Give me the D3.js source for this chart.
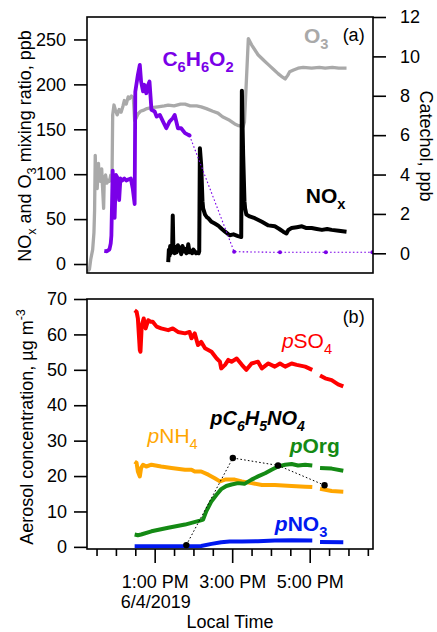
<!DOCTYPE html>
<html>
<head>
<meta charset="utf-8">
<script src="https://cdn.jsdelivr.net/npm/d3@7"></script>
<style>
  html, body { margin: 0; padding: 0; background: #fff; }
  svg { display: block; font-family: "Liberation Sans", Arial, Helvetica, sans-serif; }
</style>
</head>
<body>
<svg id="chart" width="437" height="632"></svg>
<script>
// ---------- data: [local time, value] ----------
// Panel (a): gas phase, ppb
const o3 = [
  ["11:16",-8],["11:19",-6],["11:21",5],["11:24",16],["11:26",35],["11:27",60],["11:28",121],
  ["11:29",95],["11:31",84],["11:33",112],["11:34",96],["11:36",92],["11:38",106],["11:39",90],
  ["11:41",62],["11:42",96],["11:44",99],["11:46",90],["11:48",93],["11:50",92],["11:52",99],
  ["11:54",97],["11:55",166],["11:57",177],["11:59",172],["12:02",166],["12:05",172],["12:08",169],
  ["12:11",176],["12:13",182],["12:16",178],["12:19",186],["12:21",184],["12:24",187],["12:27",185],
  ["12:29",160],["12:31",162],["12:34",167],["12:38",170],["12:42",171],["12:48",173],["12:55",174],
  ["13:05",175],["13:15",176],["13:21",177],["13:30",176],["13:40",178],["13:47",178],["13:55",176],
  ["14:05",176],["14:12",175],["14:20",173],["14:30",170],["14:38",168],["14:45",164],["14:56",160],
  ["15:04",156],["15:10",154],["15:17",153],["15:19",158],["15:25",251],["15:30",244],["15:40",233],
  ["15:50",226],["15:56",222],["16:05",216],["16:11",212],["16:18",208],["16:22",206],["16:26",210],
  ["16:29",214],["16:35",216],["16:42",218],["16:50",219],["17:03",218],["17:15",219],["17:24",218],
  ["17:35",219],["17:45",218],["17:57",218]
];

const nox = [
  ["13:21",2],["13:22",16],["13:23",9],["13:24",20],["13:25",12],["13:26",18],["13:27",14],["13:28",54],
  ["13:29",16],["13:31",12],["13:32",19],["13:34",13],["13:36",21],["13:38",15],["13:40",18],["13:41",11],
  ["13:43",20],["13:45",14],["13:47",17],["13:49",12],["13:51",16],["13:52",22],["13:54",13],["13:56",15],
  ["13:58",12],["14:00",16],["14:02",14],["14:04",12],["14:06",13],["14:08",12],["14:09",14],["14:10",129],
  ["14:12",110],["14:14",70],["14:15",62],["14:18",55],["14:21",52],["14:23",51],["14:28",47],["14:33",45],
  ["14:38",43],["14:44",39],["14:49",36],["14:56",32],["15:02",33],["15:09",31],["15:14",30],["15:15",193],
  ["15:17",121],["15:19",70],["15:20",62],["15:22",55],["15:27",53],["15:35",51],["15:46",47],["15:56",43],
  ["16:06",42],["16:13",39],["16:19",36],["16:24",34],["16:27",38],["16:32",40],["16:40",41],["16:48",42],
  ["16:55",40],["17:03",40],["17:11",39],["17:19",38],["17:27",39],["17:34",38],["17:45",37],["17:57",36]
];

// Catechol (C6H6O2), ppb: continuous record, then discrete samples
const catechol = [
  ["11:42",0.12],["11:46",0.1],["11:50",0.2],["11:52",0.5],["11:53",0.9],["11:55",4.2],["11:56",2.6],
  ["11:58",1.8],["12:00",3.98],["12:03",3.8],["12:05",2.7],["12:07",3.8],["12:10",3.7],["12:13",3.8],
  ["12:16",3.7],["12:19",3.75],["12:23",3.8],["12:26",3.3],["12:29",2.5],["12:30",8.2],["12:34",9.06],
  ["12:37",9.57],["12:39",8.72],["12:42",8.22],["12:44",8.56],["12:47",8.13],["12:50",8.56],["12:52",8.72],
  ["12:55",7.29],["13:00",7.20],["13:03",6.94],["13:08",7.03],["13:13",6.69],["13:18",6.35],["13:23",6.69],
  ["13:28",6.86],["13:31",7.03],["13:36",6.35],["13:41",6.35],["13:47",6.10],["13:54",5.98]
];
const catecholSamples = [["13:54",5.98],["15:03",0.08],["16:14",0.05],["17:25",0.05],["18:37",0.05]];

// Panel (b): aerosol composition, ug m-3 (null = no data)
const pSO4 = [
  ["12:29",66.8],["12:32",66.4],["12:34",64.5],["12:37",55.6],["12:38",55.1],["12:40",62.6],["12:43",64.5],
  ["12:46",61.7],["12:50",64.0],["12:54",63.6],["12:57",63.6],["13:03",62.2],["13:10",61.7],["13:21",61.2],
  ["13:28",61.7],["13:36",60.7],["13:47",60.3],["13:54",60.7],["13:57",58.9],["14:02",60.3],["14:07",57.0],
  ["14:12",57.9],["14:18",56.1],["14:28",55.1],["14:36",53.2],["14:41",52.3],["14:43",50.4],["14:49",51.4],
  ["14:54",52.8],["14:59",52.3],["15:07",53.2],["15:15",51.4],["15:22",50.0],["15:30",51.8],["15:40",52.3],
  ["15:46",50.4],["15:56",51.8],["16:06",50.9],["16:14",51.8],["16:22",50.9],["16:32",51.8],["16:40",51.4],
  ["16:53",50.9],["17:04",50.0],["17:10",null],["17:16",48.4],["17:24",47.6],["17:34",47.1],["17:44",45.9],
  ["17:52",45.3]
];
const pNH4 = [
  ["12:29",24.1],["12:32",23.7],["12:34",21.3],["12:37",19.9],["12:39",22.3],["12:42",23.2],["12:47",22.7],
  ["12:55",23.2],["13:10",22.7],["13:26",22.3],["13:47",21.8],["13:57",21.8],["14:02",21.3],["14:12",21.3],
  ["14:23",20.4],["14:33",19.4],["14:41",18.5],["14:49",19.0],["15:04",19.0],["15:15",18.5],["15:30",18.0],
  ["15:46",17.5],["16:06",17.5],["16:32",17.2],["16:53",17.0],["17:04",16.9],["17:10",null],["17:16",16.4],
  ["17:34",15.8],["17:52",15.6]
];
const pOrg = [
  ["12:29",3.5],["12:34",3.3],["12:39",3.5],["12:55",4.4],["13:21",5.4],["13:47",6.3],["14:10",7.4],
  ["14:15",7.7],["14:20",10.1],["14:28",12.9],["14:36",14.8],["14:43",16.3],["14:51",17.2],["14:59",17.6],
  ["15:09",18.0],["15:19",17.8],["15:30",19.0],["15:40",19.9],["15:51",20.8],["16:01",21.8],["16:11",22.7],
  ["16:22",23.2],["16:32",23.4],["16:42",23.0],["16:53",23.2],["17:04",23.0],["17:10",null],["17:16",22.3],
  ["17:34",22.1],["17:52",21.5]
];
const pNO3 = [
  ["12:29",0.2],["13:47",0.2],["14:12",0.25],["14:28",0.85],["14:43",1.3],["14:56",1.5],["15:15",1.5],
  ["15:40",1.6],["16:06",1.8],["16:32",1.9],["17:04",1.8],["17:10",null],["17:16",1.4],["17:52",1.3]
];
const pC6H5NO4 = [["13:49",0.5],["15:01",25.1],["16:11",23.0],["17:23",17.4]];

// axis ticks
const gasTicks = [0, 50, 100, 150, 200, 250];
const catecholTicks = [0, 2, 4, 6, 8, 10, 12];
const aerosolTicks = [0, 10, 20, 30, 40, 50, 60, 70];
const timeLabels = ["13:00", "15:00", "17:00"];
const dateLabel = "6/4/2019";

// ---------- setup ----------
const svg = d3.select("#chart");
const parseT = d3.timeParse("%Y-%m-%d %H:%M");
const T = s => parseT("2019-06-04 " + s);
const fmtTime = d3.timeFormat("%-I:%M %p");

const L = 87, R = 373;
const topA = 17, botA = 273, topB = 299, botB = 549;

const x = d3.scaleTime().domain([parseT("2019-06-04 11:14"), parseT("2019-06-04 18:38")])
  .range([L - 0.8, R]);
const yGas = d3.scaleLinear().domain([-10, 275]).range([botA, topA]);
const yCat = d3.scaleLinear().domain([-1, 12]).range([botA, topA]);
const yAer = d3.scaleLinear().domain([-0.6, 70]).range([botB, topB]);

const C = {
  o3: "#a9a9a9", nox: "#000000", cat: "#7a00e8",
  so4: "#ff0000", nh4: "#ffa600", org: "#148a14", no3: "#0018f0"
};

function drawLine(g, data, y, color, width) {
  const line = d3.line()
    .defined(d => d[1] !== null)
    .x(d => x(T(d[0]))).y(d => y(d[1]))
    .curve(d3.curveLinear);
  g.append("path").datum(data)
    .attr("fill", "none").attr("stroke", color).attr("stroke-width", width)
    .attr("stroke-linejoin", "round").attr("stroke-linecap", "butt")
    .attr("d", line);
}

function drawSamples(g, data, y, color, width, r) {
  const line = d3.line().x(d => x(T(d[0]))).y(d => y(d[1]));
  g.append("path").datum(data)
    .attr("fill", "none").attr("stroke", color).attr("stroke-width", width)
    .attr("stroke-dasharray", "1.6,2.2").attr("d", line);
  g.selectAll(null).data(data).enter().append("circle")
    .attr("cx", d => x(T(d[0]))).attr("cy", d => y(d[1]))
    .attr("r", r).attr("fill", color);
}

// text with sub/superscripts; parts: [text, kind] kind: "" | "sub" | "sup" | "i"
function richText(g, px, py, parts, opt) {
  const t = g.append("text").attr("x", px).attr("y", py)
    .attr("font-size", opt.size).attr("fill", opt.color || "#000")
    .attr("font-weight", opt.weight || "normal")
    .attr("font-style", opt.style || "normal")
    .attr("text-anchor", opt.anchor || "start");
  if (opt.transform) t.attr("transform", opt.transform);
  let shift = 0;
  parts.forEach(([s, kind]) => {
    const ts = t.append("tspan").text(s);
    const target = kind === "sub" ? opt.size * 0.27 : kind === "sup" ? -opt.size * 0.42 : 0;
    if (target !== shift) { ts.attr("dy", target - shift); shift = target; }
    if (kind === "sub" || kind === "sup") ts.attr("font-size", opt.size * 0.7);
    if (kind === "i") ts.attr("font-style", "italic");
  });
  return t;
}

svg.append("clipPath").attr("id", "clipA")
  .append("rect").attr("x", L).attr("y", topA).attr("width", R - L).attr("height", botA - topA);
svg.append("clipPath").attr("id", "clipB")
  .append("rect").attr("x", L).attr("y", topB).attr("width", R - L).attr("height", botB - topB);

// ---------- panel (a) ----------
const gA = svg.append("g").attr("clip-path", "url(#clipA)");
drawLine(gA, o3, yGas, C.o3, 3.3);
drawLine(gA, nox, yGas, C.nox, 4);
drawSamples(gA, catecholSamples, yCat, C.cat, 1.1, 2);
drawLine(gA, catechol, yCat, C.cat, 3.8);

// ---------- panel (b) ----------
const gB = svg.append("g").attr("clip-path", "url(#clipB)");
drawLine(gB, pSO4, yAer, C.so4, 4);
drawLine(gB, pNH4, yAer, C.nh4, 4);
drawLine(gB, pOrg, yAer, C.org, 4);
drawLine(gB, pNO3, yAer, C.no3, 4);
drawSamples(gB, pC6H5NO4, yAer, "#000", 1, 3.2);

// ---------- frames & axes ----------
function frame(t, b) {
  svg.append("rect").attr("x", L).attr("y", t).attr("width", R - L).attr("height", b - t)
    .attr("fill", "none").attr("stroke", "#000").attr("stroke-width", 1.6);
}
frame(topA, botA);
frame(topB, botB);

function styleAxis(g) {
  g.select(".domain").remove();
  g.selectAll(".tick line").attr("stroke", "#000").attr("stroke-width", 1.6);
  g.selectAll(".tick text").attr("font-size", 18).attr("fill", "#000")
    .attr("font-family", "'Liberation Sans', Arial, sans-serif");
}

svg.append("g").attr("transform", `translate(${L},0)`)
  .call(d3.axisLeft(yGas).tickValues(gasTicks).tickSize(13).tickPadding(8))
  .call(styleAxis);

svg.append("g").attr("transform", `translate(${R},0)`)
  .call(d3.axisRight(yCat).tickValues(catecholTicks).tickSize(13).tickPadding(14))
  .call(styleAxis);

svg.append("g").attr("transform", `translate(${L},0)`)
  .call(d3.axisLeft(yAer).tickValues(aerosolTicks).tickSize(13).tickPadding(7))
  .call(styleAxis);

const halfHours = d3.timeMinute.every(30).range(T("11:30"), T("18:31"));
const majorSet = new Set(timeLabels.map(s => +T(s)));
const xAxisG = svg.append("g").attr("transform", `translate(0,${botB})`)
  .call(d3.axisBottom(x).tickValues(halfHours).tickSize(7)
    .tickFormat(d => majorSet.has(+d) ? fmtTime(d) : ""))
  .call(styleAxis);
xAxisG.selectAll(".tick line").attr("y2", d => majorSet.has(+d) ? 14 : 7);
xAxisG.selectAll(".tick text").attr("y", 26.5).attr("dy", "0.71em");

// date under the first time label
svg.append("text").attr("x", x(T(timeLabels[0])) + 1).attr("y", 608)
  .attr("text-anchor", "middle").attr("font-size", 18).text(dateLabel);
svg.append("text").attr("x", 230).attr("y", 627.5)
  .attr("text-anchor", "middle").attr("font-size", 18).text("Local Time");

// axis titles
richText(svg, 0, 0, [["NO",""],["x","sub"],[" and O",""],["3","sub"],[" mixing ratio, ppb",""]],
  { size: 18, anchor: "middle", transform: "translate(31,146) rotate(-90)" });
richText(svg, 0, 0, [["Catechol, ppb",""]],
  { size: 18, anchor: "middle", transform: "translate(420,146) rotate(90)" });
richText(svg, 0, 0, [["Aerosol concentration, \u00b5g m",""],["-3","sup"]],
  { size: 18, anchor: "middle", transform: "translate(33,427) rotate(-90)" });

// ---------- series labels ----------
const LS = 21;
richText(svg, x(T("13:12")), yGas(220), [["C",""],["6","sub"],["H",""],["6","sub"],["O",""],["2","sub"]],
  { size: LS, weight: "bold", color: C.cat });
richText(svg, x(T("16:51")), yGas(246), [["O",""],["3","sub"]],
  { size: LS, weight: "bold", color: C.o3 });
richText(svg, x(T("16:54")), yGas(68), [["NO",""],["x","sub"]],
  { size: LS, weight: "bold", color: C.nox });
richText(svg, x(T("17:51")), yGas(248), [["(a)",""]], { size: 18 });

richText(svg, x(T("17:51")), yAer(63.2), [["(b)",""]], { size: 18 });
richText(svg, x(T("16:17")), yAer(56.2), [["p","i"],["SO",""],["4","sub"]],
  { size: LS, color: C.so4 });
richText(svg, x(T("14:26")), yAer(34.3), [["pC",""],["6","sub"],["H",""],["5","sub"],["NO",""],["4","sub"]],
  { size: 20, weight: "bold", style: "italic", color: "#000" });
richText(svg, x(T("16:29")), yAer(26.6), [["p","i"],["Org",""]],
  { size: LS, weight: "bold", color: C.org });
richText(svg, x(T("16:06")), yAer(4.5), [["p","i"],["NO",""],["3","sub"]],
  { size: LS, weight: "bold", color: C.no3 });
richText(svg, x(T("12:49")), yAer(29.3), [["p","i"],["NH",""],["4","sub"]],
  { size: LS, color: C.nh4 });
</script>
</body>
</html>
